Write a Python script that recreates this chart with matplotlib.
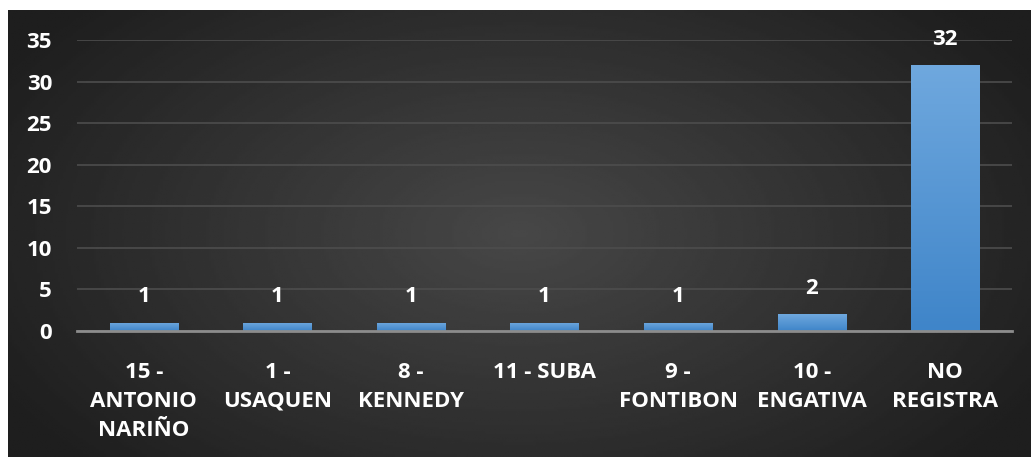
import numpy as np
import matplotlib.pyplot as plt
from matplotlib.colors import LinearSegmentedColormap

categories = ["15 -\nANTONIO\nNARIÑO", "1 -\nUSAQUEN", "8 -\nKENNEDY", "11 - SUBA",
              "9 -\nFONTIBON", "10 -\nENGATIVA", "NO\nREGISTRA"]
values = [1, 1, 1, 1, 1, 2, 32]
yticks = [0, 5, 10, 15, 20, 25, 30, 35]

W, H = 1031, 457
fig = plt.figure(figsize=(W / 100, H / 100), dpi=100)
fig.patch.set_facecolor("white")

# dark panel with radial gradient
bg = fig.add_axes([8 / W, 0, 1 - 8 / W, 1 - 10 / H])
bg.set_axis_off()
yy, xx = np.mgrid[0:1:200j, 0:1:400j]
r = np.sqrt(((xx - 0.5) * 1.3) ** 2 + (yy - 0.5) ** 2)
shade = 0.28 - 0.16 * np.clip(r / 0.75, 0, 1)
bg.imshow(shade, cmap="gray", vmin=0, vmax=1, aspect="auto", extent=[0, 1, 0, 1])
bg.set_xlim(0, 1)
bg.set_ylim(0, 1)

left, right, top, bottom = 77, 1012, 40, 331
ax = fig.add_axes([left / W, 1 - bottom / H, (right - left) / W, (bottom - top) / H])
ax.patch.set_alpha(0)
ax.yaxis.grid(True, color="#4d4d4d", linewidth=1.2)
ax.set_axisbelow(True)
for s in ["top", "right", "left"]:
    ax.spines[s].set_visible(False)
ax.spines["bottom"].set_color("#8c8c8c")
ax.spines["bottom"].set_linewidth(2)
ax.tick_params(length=0)

font = dict(family="Open Sans", weight="bold", color="white", size=16)
ax.set_yticks(yticks)
ax.set_yticklabels([str(t) for t in yticks], **font)
ax.tick_params(axis="y", pad=18)
ax.set_xticks(range(len(values)))
ax.set_xticklabels(categories, linespacing=1.5, **font)
ax.tick_params(axis="x", pad=22)

grad = np.linspace(0, 1, 100).reshape(-1, 1)
cmap = LinearSegmentedColormap.from_list("bar", ["#3f85c9", "#6fa8de"])
bars = ax.bar(range(len(values)), values, width=0.51, color="none", zorder=2)
for b, v in zip(bars, values):
    x0, w = b.get_x(), b.get_width()
    im = ax.imshow(grad, cmap=cmap, aspect="auto", origin="lower",
                   extent=[x0, x0 + w, 0, v], zorder=2)
    im.set_clip_path(b)
    ax.text(x0 + w / 2, v + 3.1, str(v), ha="center", va="center", **font)
ax.set_xlim(-0.5, len(values) - 0.5)
ax.set_ylim(0, 35)

fig.savefig("out.png", dpi=100, facecolor=fig.get_facecolor())
